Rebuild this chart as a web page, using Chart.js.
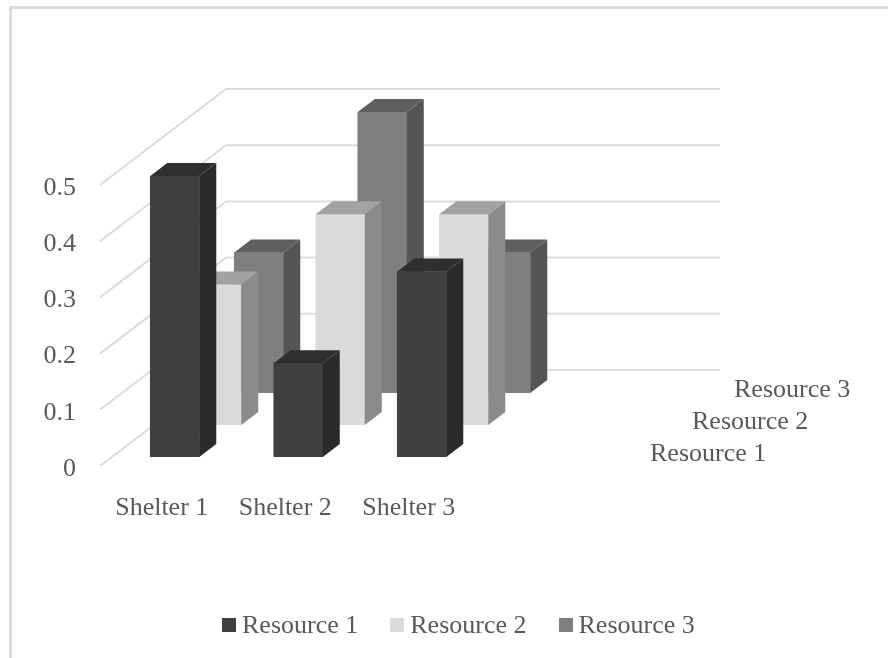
<!DOCTYPE html>
<html>
<head>
<meta charset="utf-8">
<title>Resources per shelter</title>
<script src="https://cdn.jsdelivr.net/npm/chart.js@4/dist/chart.umd.min.js"></script>
<style>
	html, body { margin: 0; padding: 0; background: #fff; overflow: hidden; }
	#wrap { position: relative; width: 888px; height: 658px; overflow: hidden; }
	#frame { position: absolute; left: 9px; top: 6px; width: 900px; height: 700px; border-left: 3px solid #dcdcdc; border-top: 3px solid #dcdcdc; }
	#shelterChart { position: absolute; left: 0; top: 0; }
	#legend { position: absolute; left: 222px; top: 610px; display: flex; font: 26px/30px "Liberation Serif", serif; color: #595959; white-space: nowrap; }
	#legend span.item { display: flex; align-items: center; margin-right: 32px; }
	#legend i { display: block; width: 14px; height: 14px; margin-right: 6px; }
</style>
</head>
<body>
<div id="wrap">
	<div id="frame"></div>
	<canvas id="shelterChart" width="888" height="658"></canvas>
	<div id="legend"></div>
</div>
<script>
var shelters = ['Shelter 1', 'Shelter 2', 'Shelter 3', ''];
var resourceNames = ['Resource 1', 'Resource 2', 'Resource 3'];

var resource1 = [0.5, 0.167, 0.33];
var resource2 = [0.25, 0.375, 0.375];
var resource3 = [0.25, 0.5, 0.25];

var frontColors = ['#404040', '#dadada', '#7f7f7f'];
var sideColors = ['#2b2b2b', '#8b8b8b', '#555555'];
var topColors = ['#2f2f2f', '#a2a2a2', '#5f5f5f'];

var textColor = '#595959';
var gridColor = '#dcdcdc';

// how far the floor recedes, front edge to back wall
var depthX = 126;
var depthY = 96;
var rowX = depthX / resourceNames.length;
var rowY = depthY / resourceNames.length;
var rowInsetX = 0.31;
var rowInsetY = 0.28;
var barDepthX = 17;
var barDepthY = 13;

var fakeDepth = {
	id: 'fakeDepth',
	// back wall and the diagonal lines running to it
	beforeDatasetsDraw: function (chart) {
		var ctx = chart.ctx;
		var xs = chart.scales.x;
		var ys = chart.scales.y;
		ctx.save();
		ctx.strokeStyle = gridColor;
		ctx.lineWidth = 2;
		ys.ticks.forEach(function (t) {
			var py = ys.getPixelForValue(t.value);
			ctx.beginPath();
			ctx.moveTo(xs.left, py);
			ctx.lineTo(xs.left + depthX, py - depthY);
			ctx.lineTo(xs.right + depthX, py - depthY);
			ctx.stroke();
		});
		ctx.restore();
	},
	// each series sits on its own row, further back the higher its index
	beforeDatasetDraw: function (chart, args) {
		chart.ctx.save();
		chart.ctx.translate((args.index + rowInsetX) * rowX, -(args.index + rowInsetY) * rowY);
	},
	afterDatasetDraw: function (chart, args) {
		var ctx = chart.ctx;
		args.meta.data.forEach(function (bar) {
			var left = bar.x - bar.width / 2;
			var right = bar.x + bar.width / 2;
			ctx.fillStyle = sideColors[args.index];
			ctx.beginPath();
			ctx.moveTo(right, bar.y);
			ctx.lineTo(right + barDepthX, bar.y - barDepthY);
			ctx.lineTo(right + barDepthX, bar.base - barDepthY);
			ctx.lineTo(right, bar.base);
			ctx.closePath();
			ctx.fill();
			ctx.fillStyle = topColors[args.index];
			ctx.beginPath();
			ctx.moveTo(left, bar.y);
			ctx.lineTo(left + barDepthX, bar.y - barDepthY);
			ctx.lineTo(right + barDepthX, bar.y - barDepthY);
			ctx.lineTo(right, bar.y);
			ctx.closePath();
			ctx.fill();
		});
		ctx.restore();
	},
	// series names along the depth axis
	afterDraw: function (chart) {
		var ctx = chart.ctx;
		var xs = chart.scales.x;
		var ys = chart.scales.y;
		ctx.save();
		ctx.fillStyle = textColor;
		ctx.font = '26px "Liberation Serif", serif';
		ctx.textAlign = 'left';
		ctx.textBaseline = 'middle';
		resourceNames.forEach(function (name, i) {
			ctx.fillText(name, xs.right + (i + 0.5) * rowX + 35, ys.bottom - (i + 0.5) * rowY + 4);
		});
		ctx.restore();
	}
};

var ctx = document.getElementById('shelterChart').getContext('2d');

var shelterChart = new Chart(ctx, {
	type: 'bar',
	data: {
		labels: shelters,
		datasets: [
			{ label: resourceNames[0], data: resource1, backgroundColor: frontColors[0] },
			{ label: resourceNames[1], data: resource2, backgroundColor: frontColors[1] },
			{ label: resourceNames[2], data: resource3, backgroundColor: frontColors[2] }
		]
	},
	plugins: [fakeDepth],
	options: {
		responsive: false,
		animation: false,
		grouped: false,
		barThickness: 49,
		layout: {
			padding: { left: 43, right: 294, top: 185, bottom: 137 }
		},
		plugins: {
			legend: { display: false },
			tooltip: { enabled: false }
		},
		scales: {
			x: {
				grid: { display: false },
				border: { display: false },
				// the outer labels must not push the plot area in
				afterFit: function (scale) {
					scale.height = 55;
					scale.paddingLeft = 0;
					scale.paddingRight = 0;
				},
				ticks: {
					color: textColor,
					padding: 19,
					maxRotation: 0,
					autoSkip: false,
					font: { family: '"Liberation Serif", serif', size: 26 }
				}
			},
			y: {
				min: 0,
				max: 0.5,
				grid: { display: false },
				border: { display: false },
				afterFit: function (scale) {
					scale.width = 57;
					scale.paddingTop = 0;
					scale.paddingBottom = 0;
				},
				ticks: {
					color: textColor,
					padding: 16,
					stepSize: 0.1,
					labelOffset: 3,
					font: { family: '"Liberation Serif", serif', size: 26 }
				}
			}
		}
	}
});

// legend row under the plot
var legendBox = document.getElementById('legend');
shelterChart.data.datasets.forEach(function (ds) {
	var item = document.createElement('span');
	item.className = 'item';
	var swatch = document.createElement('i');
	swatch.style.background = ds.backgroundColor;
	item.appendChild(swatch);
	item.appendChild(document.createTextNode(ds.label));
	legendBox.appendChild(item);
});
</script>
</body>
</html>
